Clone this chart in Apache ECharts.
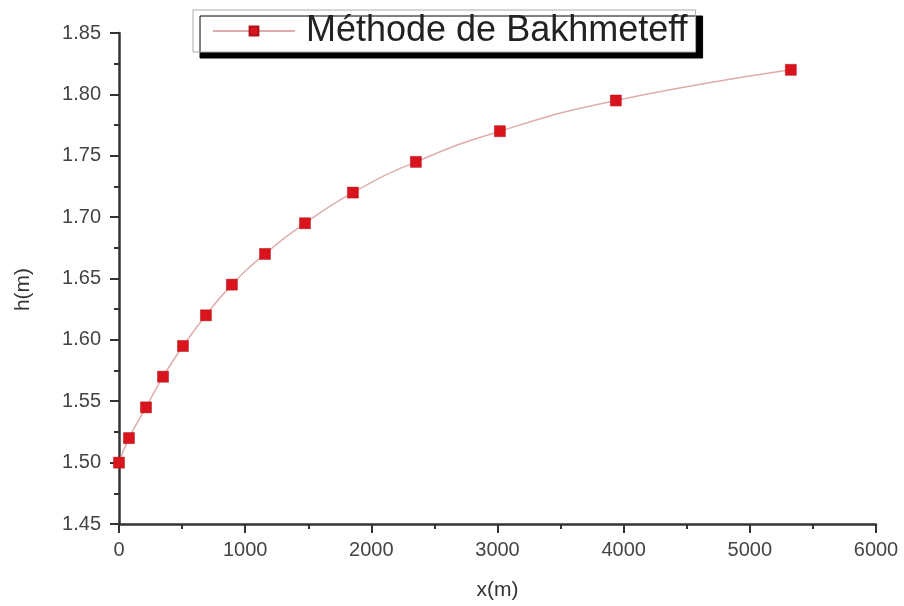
<!DOCTYPE html>
<html>
<head>
<meta charset="utf-8">
<script src="https://cdn.jsdelivr.net/npm/echarts@6/dist/echarts.min.js"></script>
<style>
html,body{margin:0;padding:0;background:#fff;}
#chart{width:904px;height:606px;}
</style>
</head>
<body>
<div id="chart"></div>
<script>
var seriesName = 'Méthode de Bakhmeteff';
var xValues = [0, 79, 214, 349, 507, 689, 895, 1157, 1474, 1854, 2353, 3019, 3938, 5325];
var hValues = [1.50, 1.52, 1.545, 1.57, 1.595, 1.62, 1.645, 1.67, 1.695, 1.72, 1.745, 1.77, 1.795, 1.82];
var xAxisName = 'x(m)';
var yAxisName = 'h(m)';

var points = xValues.map(function (x, i) { return [x, hValues[i]]; });
var font = 'Liberation Sans, Arial, sans-serif';
var axisColor = '#333';

var chart = echarts.init(document.getElementById('chart'), null, {renderer: 'canvas'});
chart.setOption({
  animation: false,
  backgroundColor: '#fff',
  textStyle: {fontFamily: font},
  grid: {left: 119, right: 28, top: 33, bottom: 72, containLabel: false},
  legend: {
    left: 193, top: 10,
    padding: [3, 8, 3, 19],
    itemWidth: 82, itemHeight: 11,
    backgroundColor: '#fff',
    borderColor: '#aaa', borderWidth: 1,
    shadowColor: '#000', shadowBlur: 0, shadowOffsetX: 7, shadowOffsetY: 6,
    textStyle: {fontSize: 36, color: '#222', fontFamily: font, padding: [0, 0, 0, 6]},
    data: [seriesName]
  },
  xAxis: {
    type: 'value', min: 0, max: 6000, interval: 1000,
    name: xAxisName, nameLocation: 'middle', nameGap: 56,
    nameTextStyle: {fontSize: 21, color: '#333', fontFamily: font},
    axisLine: {show: true, lineStyle: {color: axisColor, width: 2.5}},
    axisTick: {show: true, length: 9, lineStyle: {color: axisColor, width: 2}},
    minorTick: {show: true, splitNumber: 2, length: 5, lineStyle: {color: axisColor, width: 2}},
    axisLabel: {fontSize: 20, color: '#444', margin: 16, fontFamily: font,
      formatter: function (v) { return String(v); }},
    splitLine: {show: false}
  },
  yAxis: {
    type: 'value', min: 1.45, max: 1.85, interval: 0.05,
    name: yAxisName, nameLocation: 'middle', nameGap: 85, nameRotate: 90,
    nameTextStyle: {fontSize: 21, color: '#333', fontFamily: font, padding: [0, 22, 0, 0]},
    axisLine: {show: true, lineStyle: {color: axisColor, width: 2.5}},
    axisTick: {show: true, length: 9, lineStyle: {color: axisColor, width: 2}},
    minorTick: {show: true, splitNumber: 2, length: 5, lineStyle: {color: axisColor, width: 2}},
    axisLabel: {fontSize: 20, color: '#444', margin: 18, fontFamily: font,
      formatter: function (v) { return v.toFixed(2); }},
    splitLine: {show: false}
  },
  series: [{
    name: seriesName,
    type: 'line',
    data: points,
    smooth: true,
    symbol: 'rect',
    symbolSize: 11,
    lineStyle: {color: '#dfacac', width: 1.5},
    itemStyle: {color: '#d9141c', borderColor: '#b01018', borderWidth: 0.5}
  }]
});
</script>
</body>
</html>
